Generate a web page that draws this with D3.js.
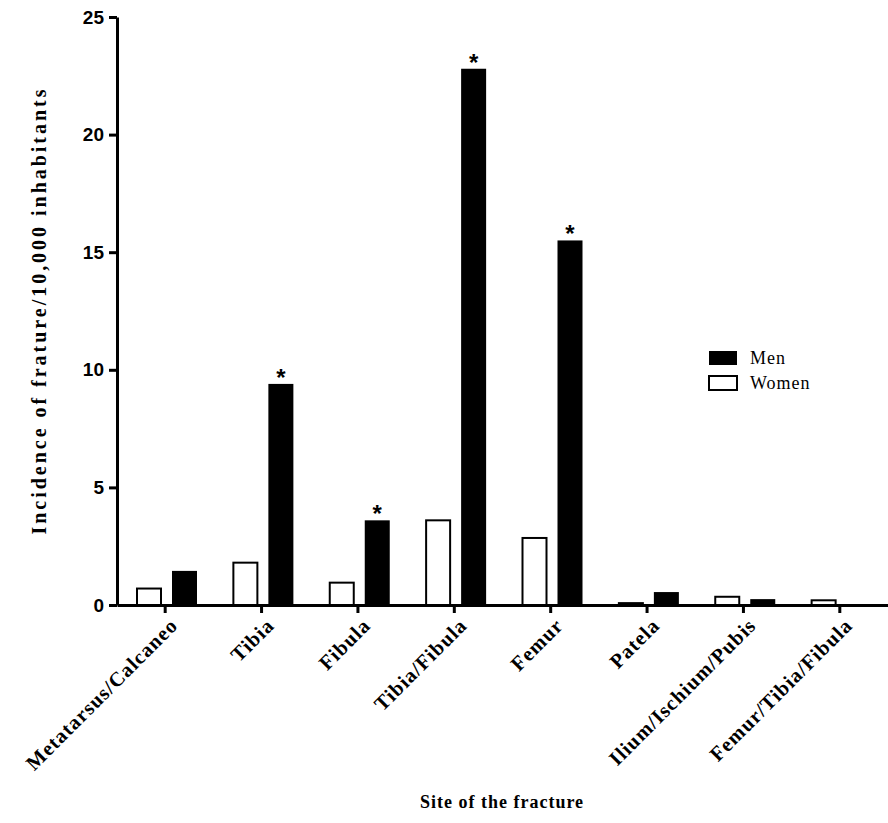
<!DOCTYPE html>
<html><head><meta charset="utf-8">
<script src="https://cdn.jsdelivr.net/npm/d3@7"></script>
<style>body{margin:0;background:#fff}</style>
</head><body>
<svg id="chart" width="888" height="823"></svg>
<script>
const categories = ["Metatarsus/Calcaneo","Tibia","Fibula","Tibia/Fibula","Femur","Patela","Ilium/Ischium/Pubis","Femur/Tibia/Fibula"];
const women = [0.7, 1.8, 0.95, 3.6, 2.85, 0.08, 0.35, 0.2];
const men = [1.45, 9.4, 3.6, 22.8, 15.5, 0.55, 0.25, 0];
const starred = [false, true, true, true, true, false, false, false];
const yTicks = [0, 5, 10, 15, 20, 25];

const svg = d3.select("#chart");
const x = d3.scaleBand().domain(categories).range([117, 888]);
const y = d3.scaleLinear().domain([0, 25]).range([605, 17]);
const serif = "'Liberation Serif', 'Times New Roman', serif";
const sans = "'Liberation Sans', Arial, sans-serif";

// y axis
const ya = svg.append("g").attr("transform", "translate(117,0)")
  .call(d3.axisLeft(y).tickValues(yTicks).tickSize(8).tickSizeOuter(0));
ya.select(".domain").attr("stroke-width", 3);
ya.selectAll(".tick line").attr("stroke-width", 3);
ya.selectAll("text").attr("font-family", sans).attr("font-weight", "bold").attr("font-size", 19).attr("dx", -2);

// x axis
const xa = svg.append("g").attr("transform", "translate(0,605)")
  .call(d3.axisBottom(x).tickSize(8).tickSizeOuter(0));
xa.select(".domain").attr("stroke-width", 3);
xa.selectAll(".tick line").attr("stroke-width", 3);
xa.selectAll("text").attr("font-family", serif).attr("font-weight", "bold").attr("font-size", 20.5)
  .attr("letter-spacing", 1)
  .attr("text-anchor", "end").attr("dy", 0).attr("transform", "translate(6,14) rotate(-45)");

const bw = 24;
svg.append("g").selectAll("rect").data(categories).join("rect")
  .attr("x", d => x(d) + 20).attr("width", bw)
  .attr("y", (d, i) => y(women[i])).attr("height", (d, i) => y(0) - y(women[i]))
  .attr("fill", "#fff").attr("stroke", "#000").attr("stroke-width", 2);
svg.append("g").selectAll("rect").data(categories).join("rect")
  .attr("x", d => x(d) + 55).attr("width", bw + 1)
  .attr("y", (d, i) => y(men[i])).attr("height", (d, i) => y(0) - y(men[i]))
  .attr("fill", "#000");
svg.append("g").selectAll("text").data(categories.filter((d, i) => starred[i])).join("text")
  .attr("x", d => x(d) + 67.5)
  .attr("y", d => y(men[categories.indexOf(d)]) + 2)
  .attr("text-anchor", "middle").attr("font-family", sans).attr("font-weight", "bold").attr("font-size", 24)
  .text("*");

// legend
const lg = svg.append("g");
lg.append("rect").attr("x", 709).attr("y", 351).attr("width", 28).attr("height", 14).attr("fill", "#000");
lg.append("rect").attr("x", 709).attr("y", 376).attr("width", 28).attr("height", 14).attr("fill", "#fff").attr("stroke", "#000").attr("stroke-width", 2);
lg.append("text").attr("x", 750).attr("y", 364).attr("font-family", serif).attr("font-size", 18).attr("letter-spacing", 1).text("Men");
lg.append("text").attr("x", 750).attr("y", 389).attr("font-family", serif).attr("font-size", 18).attr("letter-spacing", 1).text("Women");

svg.append("text").attr("x", 502).attr("y", 808).attr("text-anchor", "middle")
  .attr("font-family", serif).attr("font-weight", "bold").attr("font-size", 18).attr("letter-spacing", 1).text("Site of the fracture");
svg.append("text").attr("transform", "translate(46,312) rotate(-90)").attr("text-anchor", "middle")
  .attr("font-family", serif).attr("font-weight", "bold").attr("font-size", 20)
  .attr("textLength", 445).attr("lengthAdjust", "spacing").text("Incidence of frature/10,000 inhabitants");
</script>
</body></html>
